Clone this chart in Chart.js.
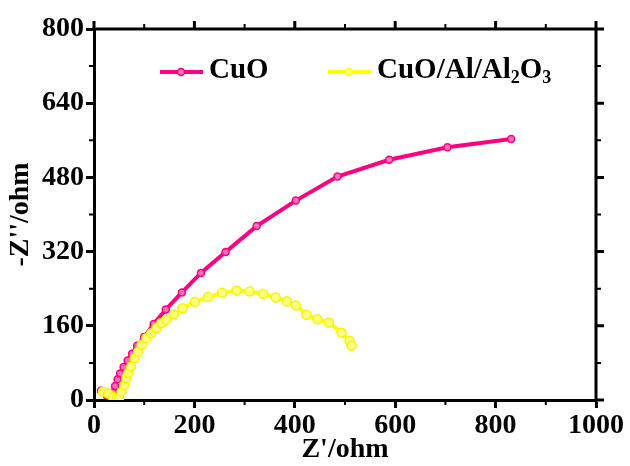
<!DOCTYPE html>
<html>
<head>
<meta charset="utf-8">
<title>Nyquist plot</title>
<script src="https://cdn.jsdelivr.net/npm/chart.js@4"></script>
<style>
    body { margin: 0; background: #fff; }
    #wrap { width: 630px; height: 466px; }
</style>
</head>
<body>
<div id="wrap"><canvas id="nyquistChart" width="630" height="466"></canvas></div>
<script>
const FONT = "'Liberation Serif', 'Times New Roman', serif";

// CuO
const cuoZre = [14, 25, 33, 38, 42, 47, 52, 59, 67, 76, 86, 100, 119, 143, 175, 213, 262, 324, 402, 485, 588, 704, 831];
const cuoZim = [20, 10, 4, 16, 30, 45, 57, 71, 85, 100, 117, 136, 164, 195, 232, 274, 319, 375, 430, 482, 518, 545, 563];

// CuO/Al/Al2O3
const alZre = [18, 28, 38, 45, 50, 55, 60, 64, 68, 74, 81, 88, 95, 104, 114, 124, 134, 144, 159, 176, 201, 227, 255, 284, 310, 337, 362, 384, 402, 423, 445, 468, 493, 509, 513];
const alZim = [18, 14, 7, 3, 4, 18, 32, 47, 58, 72, 90, 104, 119, 133, 144, 155, 166, 173, 185, 198, 212, 222, 231, 236, 234, 229, 221, 213, 204, 184, 174, 167, 145, 128, 117];

const xTicks = [0, 200, 400, 600, 800, 1000];
const yTicks = [0, 160, 320, 480, 640, 800];
const xMinor = [100, 300, 500, 700, 900];
const yMinor = [80, 240, 400, 560, 720];

function toPoints(xs, ys) {
    return xs.map((x, i) => ({ x: x, y: ys[i] }));
}

// frame on top/right plus minor ticks everywhere
const framePlugin = {
    id: 'frame',
    afterDraw(chart) {
        const ctx = chart.ctx;
        const area = chart.chartArea;
        const xs = chart.scales.x;
        const ys = chart.scales.y;
        ctx.save();
        ctx.strokeStyle = '#000';
        ctx.lineWidth = 3;
        ctx.beginPath();
        ctx.moveTo(area.left - 1.5, area.top);
        ctx.lineTo(area.right, area.top);
        ctx.lineTo(area.right, area.bottom + 1.5);
        ctx.stroke();

        ctx.beginPath();
        for (const v of xTicks) {
            const px = xs.getPixelForValue(v);
            ctx.moveTo(px, area.top);
            ctx.lineTo(px, area.top - 8);
        }
        for (const v of yTicks) {
            const py = ys.getPixelForValue(v);
            ctx.moveTo(area.right, py);
            ctx.lineTo(area.right + 8, py);
        }
        ctx.stroke();

        ctx.lineWidth = 2;
        ctx.beginPath();
        for (const v of xMinor) {
            const px = xs.getPixelForValue(v);
            ctx.moveTo(px, area.bottom);
            ctx.lineTo(px, area.bottom + 5);
            ctx.moveTo(px, area.top);
            ctx.lineTo(px, area.top - 5);
        }
        for (const v of yMinor) {
            const py = ys.getPixelForValue(v);
            ctx.moveTo(area.left, py);
            ctx.lineTo(area.left - 5, py);
            ctx.moveTo(area.right, py);
            ctx.lineTo(area.right + 5, py);
        }
        ctx.stroke();
        ctx.restore();
    }
};

// legend with subscripts
const legendPlugin = {
    id: 'subLegend',
    afterDraw(chart) {
        const ctx = chart.ctx;
        const items = [
            { x: 160, color: '#ff0080', fill: '#ff70b8', parts: [['CuO', false]] },
            { x: 328, color: '#ffff00', fill: '#ffff80', parts: [['CuO/Al/Al', false], ['2', true], ['O', false], ['3', true]] }
        ];
        const y = 72;
        ctx.save();
        for (const item of items) {
            ctx.strokeStyle = item.color;
            ctx.lineWidth = 4;
            ctx.beginPath();
            ctx.moveTo(item.x, y);
            ctx.lineTo(item.x + 43, y);
            ctx.stroke();
            ctx.beginPath();
            ctx.arc(item.x + 21, y, 3.5, 0, Math.PI * 2);
            ctx.fillStyle = item.fill;
            ctx.fill();
            ctx.lineWidth = 1.5;
            ctx.stroke();

            let tx = item.x + 49;
            ctx.fillStyle = '#000';
            ctx.textBaseline = 'alphabetic';
            ctx.textAlign = 'left';
            for (const [txt, sub] of item.parts) {
                ctx.font = 'bold ' + (sub ? 18 : 29) + 'px ' + FONT;
                ctx.fillText(txt, tx, sub ? y + 11 : y + 6);
                tx += ctx.measureText(txt).width;
            }
        }
        ctx.restore();
    }
};

function loadChart() {
    const ctx = document.getElementById('nyquistChart').getContext('2d');
    new Chart(ctx, {
        type: 'scatter',
        data: {
            datasets: [{
                label: 'CuO',
                data: toPoints(cuoZre, cuoZim),
                showLine: true,
                borderColor: '#ff0080',
                borderWidth: 4,
                pointRadius: 3.5,
                pointBorderWidth: 1.5,
                pointBorderColor: '#ff0080',
                pointBackgroundColor: '#ff70b8',
                order: 1
            }, {
                label: 'CuO/Al/Al2O3',
                data: toPoints(alZre, alZim),
                showLine: true,
                borderColor: '#ffff00',
                borderWidth: 4,
                pointRadius: 4.5,
                pointBorderWidth: 1.5,
                pointBorderColor: '#f5f500',
                pointBackgroundColor: '#ffff80',
                order: 0
            }]
        },
        options: {
            responsive: false,
            animation: false,
            layout: { padding: { top: 29, right: 34, left: 0, bottom: 0 } },
            plugins: {
                legend: { display: false },
                tooltip: { enabled: false }
            },
            scales: {
                x: {
                    type: 'linear',
                    min: 0,
                    max: 1000,
                    afterFit: scale => { scale.height = 66; },
                    afterBuildTicks: scale => { scale.ticks = xTicks.map(v => ({ value: v })); },
                    border: { color: '#000', width: 3 },
                    grid: { drawOnChartArea: false, tickLength: 8, tickWidth: 3, tickColor: '#000' },
                    ticks: {
                        color: '#000',
                        autoSkip: false,
                        maxRotation: 0,
                        padding: 1,
                        callback: v => String(v),
                        font: { family: FONT, size: 28, weight: 'bold' }
                    },
                    title: {
                        display: true,
                        text: "Z'/ohm",
                        color: '#000',
                        padding: { top: 0, bottom: -1 },
                        font: { family: FONT, size: 28, weight: 'bold' }
                    }
                },
                y: {
                    type: 'linear',
                    min: 0,
                    max: 800,
                    afterFit: scale => { scale.width = 94; },
                    afterBuildTicks: scale => { scale.ticks = yTicks.map(v => ({ value: v })); },
                    border: { color: '#000', width: 3 },
                    grid: { drawOnChartArea: false, tickLength: 8, tickWidth: 3, tickColor: '#000' },
                    ticks: {
                        color: '#000',
                        autoSkip: false,
                        padding: 2,
                        callback: v => String(v),
                        font: { family: FONT, size: 28, weight: 'bold' }
                    },
                    title: {
                        display: true,
                        text: "-Z''/ohm",
                        color: '#000',
                        padding: { top: 4, bottom: 0 },
                        font: { family: FONT, size: 28, weight: 'bold' }
                    }
                }
            }
        },
        plugins: [framePlugin, legendPlugin]
    });
}

window.addEventListener('load', loadChart);
</script>
</body>
</html>
